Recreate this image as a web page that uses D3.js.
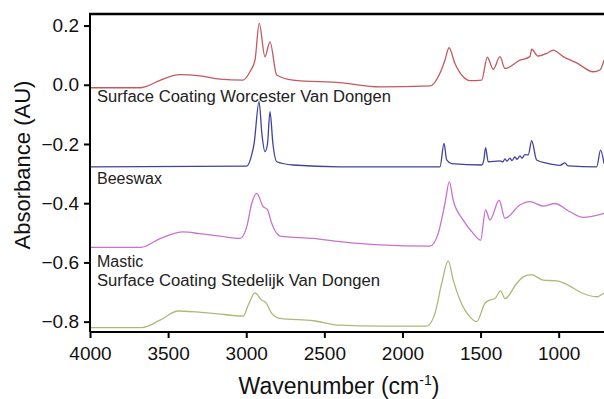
<!DOCTYPE html>
<html>
<head>
<meta charset="utf-8">
<script src="https://cdn.jsdelivr.net/npm/d3@7"></script>
<style>
  body { margin:0; background:#fff; }
  svg { display:block; font-family: Arial, "Liberation Sans", sans-serif; }
</style>
</head>
<body>
<svg id="chart" width="604" height="399"></svg>
<script>
// ==================== DATA ====================
// wavenumbers (cm-1) and absorbance
const worcesterWn  = [4000,3680,3637,3552,3424,3296,3168,3021,2976,2944,2917,2880,2848,2805,2701,2400,2144,1824,1760,1728,1702,1664,1611,1568,1493,1457,1419,1376,1344,1248,1184,1173,1133,1077,1035,971,885,779,736,710];
const worcesterAbs = [-0.010,-0.010,-0.005,0.015,0.034,0.030,0.019,0.016,0.044,0.083,0.207,0.095,0.145,0.033,0.016,0.007,-0.007,-0.004,0.039,0.083,0.125,0.072,0.027,0.014,0.016,0.093,0.052,0.095,0.055,0.083,0.095,0.120,0.097,0.106,0.117,0.095,0.074,0.044,0.050,0.083];

const beeswaxWn  = [4000,2997,2965,2950,2918,2899,2880,2864,2848,2829,2805,2701,2400,1760,1734,1717,1685,1493,1478,1468,1451,1376,1357,1344,1331,1312,1299,1280,1267,1248,1235,1216,1195,1173,1141,1077,992,960,941,757,732,710];
const beeswaxAbs = [-0.277,-0.275,-0.237,-0.200,-0.057,-0.170,-0.226,-0.200,-0.091,-0.200,-0.260,-0.271,-0.277,-0.277,-0.198,-0.254,-0.266,-0.271,-0.250,-0.212,-0.260,-0.257,-0.260,-0.250,-0.258,-0.248,-0.256,-0.244,-0.252,-0.240,-0.248,-0.236,-0.237,-0.189,-0.254,-0.265,-0.272,-0.264,-0.274,-0.277,-0.221,-0.266];

const masticWn  = [4000,3674,3552,3403,3296,3168,3040,2997,2965,2933,2891,2865,2837,2784,2571,2400,2144,1824,1771,1728,1700,1675,1611,1547,1500,1468,1440,1381,1344,1248,1184,1099,1024,928,843,710];
const masticAbs = [-0.549,-0.549,-0.520,-0.497,-0.503,-0.511,-0.519,-0.480,-0.401,-0.367,-0.412,-0.421,-0.468,-0.511,-0.519,-0.530,-0.541,-0.545,-0.502,-0.401,-0.328,-0.390,-0.457,-0.502,-0.525,-0.423,-0.457,-0.390,-0.451,-0.406,-0.395,-0.410,-0.401,-0.429,-0.448,-0.434];

const stedelijkWn  = [4000,3669,3552,3435,3211,3019,2987,2944,2901,2874,2837,2784,2571,2400,2144,1845,1792,1749,1707,1675,1632,1568,1525,1472,1440,1408,1372,1344,1269,1227,1173,1099,1013,949,843,757,710];
const stedelijkAbs = [-0.820,-0.820,-0.795,-0.764,-0.772,-0.781,-0.744,-0.703,-0.727,-0.736,-0.772,-0.789,-0.797,-0.812,-0.815,-0.815,-0.772,-0.671,-0.595,-0.660,-0.727,-0.784,-0.800,-0.738,-0.727,-0.722,-0.696,-0.722,-0.671,-0.649,-0.641,-0.660,-0.662,-0.674,-0.705,-0.716,-0.703];

const seriesNames = ["Surface Coating Worcester Van Dongen","Beeswax","Mastic","Surface Coating Stedelijk Van Dongen"];
const xTicks = [4000,3500,3000,2500,2000,1500,1000];
const yTicks = [0.2,0.0,-0.2,-0.4,-0.6,-0.8];

// ==================== LAYOUT ====================
const svg = d3.select("#chart");
const plotL = 90, plotR = 604, plotT = 14, plotB = 332;

const x = d3.scaleLinear().domain([4000,710]).range([plotL,plotR]);
const y = d3.scaleLinear().domain([-0.835,0.239]).range([plotB,plotT]);

const series = [
  {wn:worcesterWn, abs:worcesterAbs, color:"#c25a60"},
  {wn:beeswaxWn,   abs:beeswaxAbs,   color:"#42429e"},
  {wn:masticWn,    abs:masticAbs,    color:"#c872cc"},
  {wn:stedelijkWn, abs:stedelijkAbs, color:"#aeb878"}
];

svg.append("clipPath").attr("id","plotClip")
  .append("rect").attr("x",plotL).attr("y",plotT).attr("width",plotR-plotL).attr("height",plotB-plotT);

const line = d3.line()
  .x(d=>x(d[0])).y(d=>y(d[1]))
  .curve(d3.curveMonotoneX);

const lines = svg.append("g").attr("clip-path","url(#plotClip)");
series.forEach(s=>{
  const pts = s.wn.map((w,i)=>[w,s.abs[i]]);
  lines.append("path")
    .attr("d",line(pts))
    .attr("fill","none")
    .attr("stroke",s.color)
    .attr("stroke-width",1.3);
});

// series labels (long ones stretched to the width seen in the reference)
const labelPos = [[97,102],[97,184],[97,267],[97,286]];
const labelLen = [294,null,null,283];
svg.append("g").selectAll("text")
  .data(seriesNames)
  .join("text")
  .attr("x",(d,i)=>labelPos[i][0]).attr("y",(d,i)=>labelPos[i][1])
  .attr("font-size",16).attr("fill","#222")
  .each(function(d,i){
    if(labelLen[i]) d3.select(this).attr("textLength",labelLen[i]).attr("lengthAdjust","spacingAndGlyphs");
  })
  .text(d=>d);

// ==================== AXES ====================
const xAxis = svg.append("g").attr("transform",`translate(0,${plotB})`)
  .call(d3.axisBottom(x).tickValues(xTicks).tickSize(6).tickPadding(9).tickFormat(d3.format("d")));
const yAxis = svg.append("g").attr("transform",`translate(${plotL},0)`)
  .call(d3.axisLeft(y).tickValues(yTicks).tickSize(6).tickPadding(5).tickFormat(d3.format(".1f")));

[xAxis,yAxis].forEach(a=>{
  a.select(".domain").attr("stroke","#000").attr("stroke-width",2);
  a.selectAll(".tick line").attr("stroke","#000").attr("stroke-width",2);
  a.selectAll(".tick text").attr("font-size",19).attr("fill","#111").attr("font-family","Arial, 'Liberation Sans', sans-serif");
});
xAxis.select(".domain").attr("d",`M${plotL},0H${plotR}`);
yAxis.select(".domain").attr("d",`M0,${plotT}V${plotB}`);

// top border
svg.append("line").attr("x1",plotL-1).attr("x2",plotR).attr("y1",plotT).attr("y2",plotT)
  .attr("stroke","#000").attr("stroke-width",2.5);

// axis titles
svg.append("text")
  .attr("transform","translate(30,165) rotate(-90)")
  .attr("text-anchor","middle").attr("font-size",22).attr("fill","#111")
  .text("Absorbance (AU)");

const xt = svg.append("text")
  .attr("x",339).attr("y",394).attr("text-anchor","middle")
  .attr("font-size",23).attr("fill","#111");
xt.append("tspan").text("Wavenumber (cm");
xt.append("tspan").attr("font-size",14).attr("dy",-9).text("-1");
xt.append("tspan").attr("dy",9).text(")");
</script>
</body>
</html>
